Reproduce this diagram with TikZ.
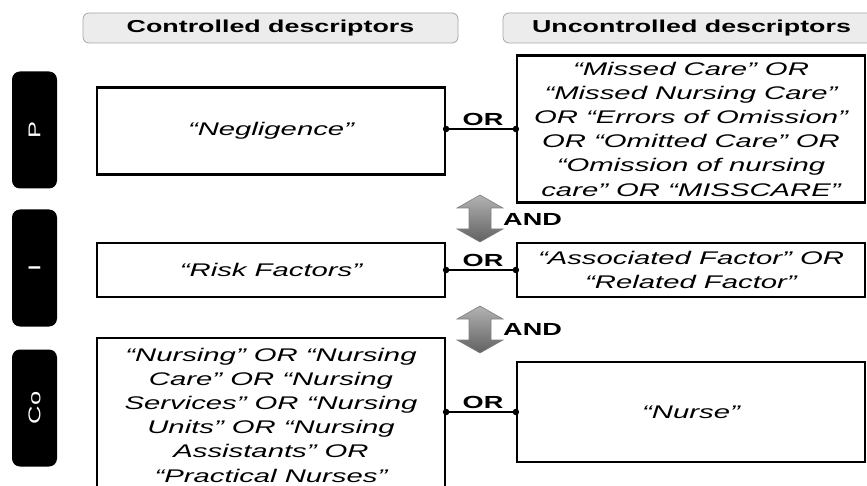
\documentclass[tikz,border=0pt]{standalone}
\usepackage{fontspec}
\usetikzlibrary{calc}
\setmainfont{Liberation Sans}
\newfontfamily\itf{Liberation Sans Italic}[FakeStretch=1.6]
\newfontfamily\bff{Liberation Sans Bold}[FakeStretch=1.55]
\newfontfamily\lbf{Liberation Sans}[FakeStretch=1.5]
\begin{document}
\begin{tikzpicture}[x=1pt,y=-1pt,
  hdr/.style={draw=gray!70, line width=0.8pt, fill=gray!15, rounded corners=6pt,
    minimum width=375pt, minimum height=30pt, inner sep=0pt,
    font=\bff\fontsize{17.3}{20}\selectfont},
  lab/.style={fill=black, rounded corners=8pt, minimum width=45pt, minimum height=117pt,
    inner sep=0pt},
  labtxt/.style={text=white, rotate=90, font=\lbf\fontsize{17}{18}\selectfont, inner sep=0pt},
  box/.style={draw=black, line width=2.2pt, minimum width=348pt, inner sep=0pt,
    align=center, font=\itf\fontsize{18.3}{24.2}\selectfont},
  conn/.style={line width=1.4pt},
  dot/.style={fill=black, draw=none, circle, inner sep=0pt, minimum size=6.5pt},
  orlab/.style={font=\bff\fontsize{17.5}{18}\selectfont, anchor=base, inner sep=0pt},
  andlab/.style={font=\bff\fontsize{17.5}{18}\selectfont, anchor=west, inner sep=0pt},
  darr/.style={top color=black!30, bottom color=black!62, draw=black!50, line width=0.6pt}
]
\useasboundingbox (0,0) rectangle (867,486);

% headers
\node[hdr] (h1) at (270.5,28) {Controlled descriptors};
\node[hdr, minimum width=377pt] (h2) at (691.5,28) {Uncontrolled descriptors};

% side labels
\node[lab] (lp) at (34.5,130) {};
\node[labtxt] (tp) at (lp.center) {P};
\node[lab] (li) at (34.5,268) {};
\node[labtxt] (ti) at (li.center) {I};
\node[lab] (lc) at (34.5,408) {};
\node[labtxt] (tc) at (lc.center) {Co};

% boxes
\node[box, minimum height=87pt] (neg) at (271,131) {“Negligence”};
\node[box, minimum height=147pt] (mis) at (691,129)
  {“Missed Care” OR\\“Missed Nursing Care”\\OR “Errors of Omission”\\OR “Omitted Care” OR\\“Omission of nursing\\care” OR “MISSCARE”};
\node[box, minimum height=54pt] (risk) at (271,270) {“Risk Factors”};
\node[box, minimum height=54pt] (ass) at (691,270) {“Associated Factor” OR\\“Related Factor”};
\node[box, minimum height=154pt] (nur) at (271,415) 
  {“Nursing” OR “Nursing\\Care” OR “Nursing\\Services” OR “Nursing\\Units” OR “Nursing\\Assistants” OR\\“Practical Nurses”};
\node[box, minimum height=100pt] (nurse) at (691,412) {“Nurse”};

% OR connectors
\foreach \a/\b/\n in {neg/mis/1, risk/ass/2, nur/nurse/3}{
  \coordinate (e\n) at (\b.west);
  \coordinate (s\n) at (\b.west -| \a.east);
  \draw[conn] (s\n) -- (e\n);
  \node[dot] at (s\n) {};
  \node[dot] at (e\n) {};
  \node[orlab] at ($(s\n)!0.5!(e\n)+(2,-3.5)$) {OR};
}

% AND arrows
\shade[darr] (480,195) -- (503,208) -- (491,208) -- (491,229) -- (503,229) -- (480,242)
  -- (457,229) -- (469,229) -- (469,208) -- (457,208) -- cycle;
\node[andlab] (and1) at (503,219) {AND};
\shade[darr] (480,306) -- (503,319) -- (491,319) -- (491,340) -- (503,340) -- (480,353)
  -- (457,340) -- (469,340) -- (469,319) -- (457,319) -- cycle;
\node[andlab] (and2) at (503,329) {AND};
\end{tikzpicture}
\end{document}
